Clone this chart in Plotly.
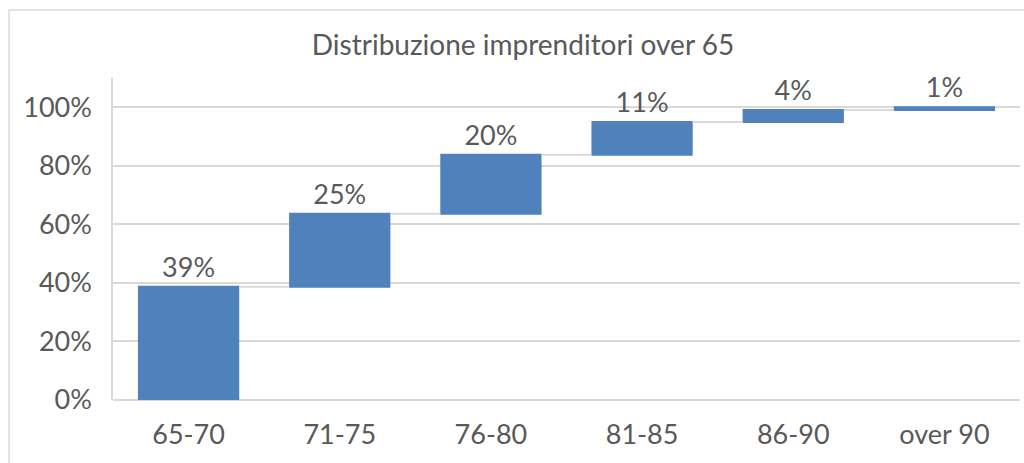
import plotly.graph_objects as go

categories = ["65-70", "71-75", "76-80", "81-85", "86-90", "over 90"]
values = [38.7, 24.9, 20.2, 11.2, 4.1, 0.9]
labels = ["39%", "25%", "20%", "11%", "4%", "1%"]
y_ticks = [0, 20, 40, 60, 80, 100]
y_ticktext = ["0%", "20%", "40%", "60%", "80%", "100%"]

FONT = "Lato"
TXT = "#595959"
GRID = "#D9D9D9"

fig = go.Figure(go.Waterfall(
    x=categories,
    y=values,
    measure=["relative"] * len(values),
    text=labels,
    textposition="outside",
    constraintext="none",
    textfont=dict(family=FONT, size=27, color=TXT),
    increasing=dict(marker=dict(color="#4F81BD", line=dict(width=0))),
    connector=dict(line=dict(color=GRID, width=2)),
    cliponaxis=False,
    hoverinfo="x+text",
))

W, H = 1024, 463
ml, mr, mt, mb = 113, 4, 78, 63
pw = W - ml - mr
ph = H - mt - mb

def px_x(p):
    return (p - ml) / pw

def px_y(p):
    return (H - mb - p) / ph

fig.update_layout(
    width=W, height=H,
    margin=dict(l=ml, r=mr, t=mt, b=mb, autoexpand=False),
    paper_bgcolor="white", plot_bgcolor="white",
    showlegend=False,
    waterfallgap=0.33,
    title=dict(text="Distribuzione imprenditori over 65", x=523 / W, xanchor="center",
               y=1 - 45 / H, yanchor="middle",
               font=dict(family=FONT, size=28, color=TXT)),
    font=dict(family=FONT, color=TXT),
    xaxis=dict(showgrid=False, showline=False, ticks="",
               tickfont=dict(family=FONT, size=27, color=TXT),
               ticklabelstandoff=16),
    yaxis=dict(range=[0, 110], tickvals=y_ticks, ticktext=y_ticktext,
               showgrid=True, gridcolor=GRID, gridwidth=1.5,
               zeroline=True, zerolinecolor=GRID, zerolinewidth=1.5,
               showline=True, linecolor=GRID, linewidth=1.5,
               ticks="", tickfont=dict(family=FONT, size=27, color=TXT),
               ticklabelstandoff=14),
    shapes=[dict(type="rect", xref="paper", yref="paper",
                 x0=px_x(9), x1=px_x(1040), y0=px_y(480), y1=px_y(10),
                 line=dict(color=GRID, width=1.5), fillcolor="rgba(0,0,0,0)",
                 layer="below")],
)

fig.write_html(
    "out.html",
    config={"displayModeBar": False},
    post_script="document.body.style.margin='0';document.body.style.overflow='hidden';",
)
